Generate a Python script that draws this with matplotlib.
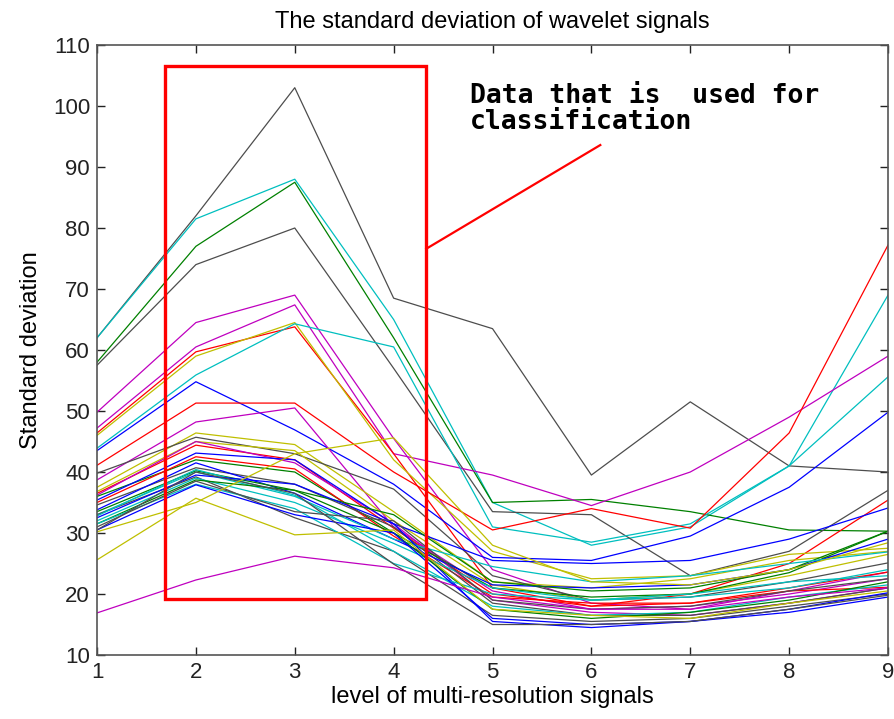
import matplotlib
matplotlib.use("Agg")
import matplotlib.pyplot as plt
from matplotlib.patches import Rectangle

# Decomposition levels on the x axis
levels = [1, 2, 3, 4, 5, 6, 7, 8, 9]

# Standard deviation per level, grouped by how large the early levels are
high_series = [
    [62, 82, 103, 68.5, 63.5, 39.5, 51.5, 41, 40],
    [62, 81.5, 88, 65, 35, 28, 31, 41, 69],
    [58, 77, 87.5, 62, 35, 35.5, 33.5, 30.5, 30.3],
    [57.5, 74, 80, 57, 33.5, 33, 23, 27, 37],
]
high_colors = ["k", "c", "g", "k"]

mid_series = [
    [49.8, 64.5, 69, 45.5, 24, 18.5, 17.5, 20.5, 23.6],
    [47.2, 60.5, 67.4, 43, 39.5, 34.5, 40, 49, 59],
    [46.4, 59.7, 63.8, 43, 21, 18, 20, 25, 35.4],
    [46, 59, 64.5, 42, 27, 22.5, 23, 26.5, 27.5],
    [43.9, 55.9, 64.3, 60.5, 31, 28.5, 31.5, 41, 55.6],
    [43.5, 54.8, 46.9, 38, 26, 25.5, 29.5, 37.5, 49.8],
    [41.1, 51.3, 51.3, 40, 30.5, 34, 30.8, 46.4, 77.2],
    [38.7, 48.2, 50.5, 31, 20.5, 17.5, 18, 20, 22.5],
    [37.5, 46.4, 44.5, 33.5, 22, 21, 22.5, 25.5, 27],
    [39.8, 45.7, 43, 37.2, 23, 19, 19.5, 22, 25.1],
    [36.5, 44.4, 42, 30.8, 20, 18, 18.5, 20.5, 21.1],
    [36.8, 45, 43.5, 32, 21.5, 19, 20, 23, 26.5],
    [36.2, 45, 41.5, 31.5, 19, 17, 16.5, 18.5, 21],
    [36, 42, 40, 30, 21, 19.5, 20, 23.5, 30.3],
    [35, 42.5, 40.5, 29.5, 19.5, 18.5, 18.5, 21, 23.6],
]
mid_colors = ["m", "m", "r", "y", "c", "b", "r", "m", "y", "k", "r", "y", "m", "g", "r"]

low_series = [
    [35.4, 43.1, 42, 31.5, 25.5, 25, 25.5, 29, 34.1],
    [34.6, 40.7, 38, 31, 18.5, 16.5, 16.5, 18.5, 21],
    [33.8, 41.5, 36.5, 29, 21.5, 21, 21.5, 24, 29],
    [33.5, 40.2, 37, 33, 22, 20.5, 21, 24, 30.3],
    [33, 40, 36, 29, 24.5, 22, 23, 25, 26.9],
    [33, 39.2, 32.5, 27, 16.5, 15.5, 16, 18, 20],
    [32.8, 40.4, 36.2, 27, 18, 16.5, 17, 19.5, 21.5],
    [32.5, 39.5, 38, 31.5, 15.5, 14.5, 15.5, 17.5, 20.2],
    [32, 39, 35, 28.3, 21, 19, 19.5, 21, 24],
    [31.5, 38.7, 37, 30, 17.5, 16, 17, 19, 22],
    [31.5, 38, 34, 25, 20, 19, 20, 22, 23],
    [31, 38.5, 33.5, 32, 19, 17.5, 18, 20.5, 22.5],
    [30.5, 37.9, 33, 30, 16, 15, 15.5, 17, 19.5],
    [30.5, 40, 36.5, 24.9, 15, 15, 15.5, 17.5, 19.8],
    [30.2, 35, 43, 45.6, 28, 22, 21.5, 24, 28.4],
    [25.6, 35.7, 29.7, 30.5, 17.5, 16.5, 16, 18.5, 20.5],
    [16.9, 22.3, 26.2, 24.3, 19.5, 17.5, 17.5, 19.5, 21],
]
low_colors = ["b", "k", "b", "g", "c", "k", "c", "b", "c", "g", "c", "k", "b", "k", "y", "y", "m"]

# Selected region and its callout
box_x = [1.69, 4.33]
box_y = [19.2, 106.6]
callout_start = [4.33, 76.6]
callout_end = [6.09, 93.6]
callout_text = "Data that is  used for\nclassification"

matlab_colors = {
    "b": (0.0, 0.0, 1.0),
    "g": (0.0, 0.5, 0.0),
    "r": (1.0, 0.0, 0.0),
    "c": (0.0, 0.75, 0.75),
    "m": (0.75, 0.0, 0.75),
    "y": (0.75, 0.75, 0.0),
    "k": (0.3, 0.3, 0.3),
}

plt.rcParams["font.family"] = ["Liberation Sans", "DejaVu Sans"]

fig = plt.figure(figsize=(8.95, 7.19), dpi=100)
ax = fig.add_axes([0.1084, 0.089, 0.8838, 0.8484])

for group, cols in ((high_series, high_colors), (mid_series, mid_colors), (low_series, low_colors)):
    for vals, c in zip(group, cols):
        ax.plot(levels, vals, color=matlab_colors[c], lw=0.9)

ax.add_patch(Rectangle((box_x[0], box_y[0]), box_x[1] - box_x[0], box_y[1] - box_y[0],
                       fill=False, edgecolor="red", lw=2.4, zorder=5, clip_on=False))
ax.plot([callout_start[0], callout_end[0]], [callout_start[1], callout_end[1]],
        color="red", lw=1.6, zorder=5)
ax.text(4.77, 103.8, callout_text, family="DejaVu Sans Mono", fontweight="bold",
        fontsize=19, va="top", ha="left", linespacing=1.0, color="black")

ax.set_xlim(1, 9)
ax.set_ylim(10, 110)
ax.set_xticks(levels)
ax.set_yticks(range(10, 111, 10))
ax.tick_params(direction="in", length=6, width=1.0, top=True, right=True,
               labelsize=16, colors="#222222", pad=5)
for s in ax.spines.values():
    s.set_color("#555555")
    s.set_linewidth(1.2)

ax.set_title("The standard deviation of wavelet signals", fontsize=17, pad=12)
ax.set_xlabel("level of multi-resolution signals", fontsize=17, labelpad=2)
ax.set_ylabel("Standard deviation", fontsize=17, labelpad=8)

fig.savefig("out.png", dpi=100)
